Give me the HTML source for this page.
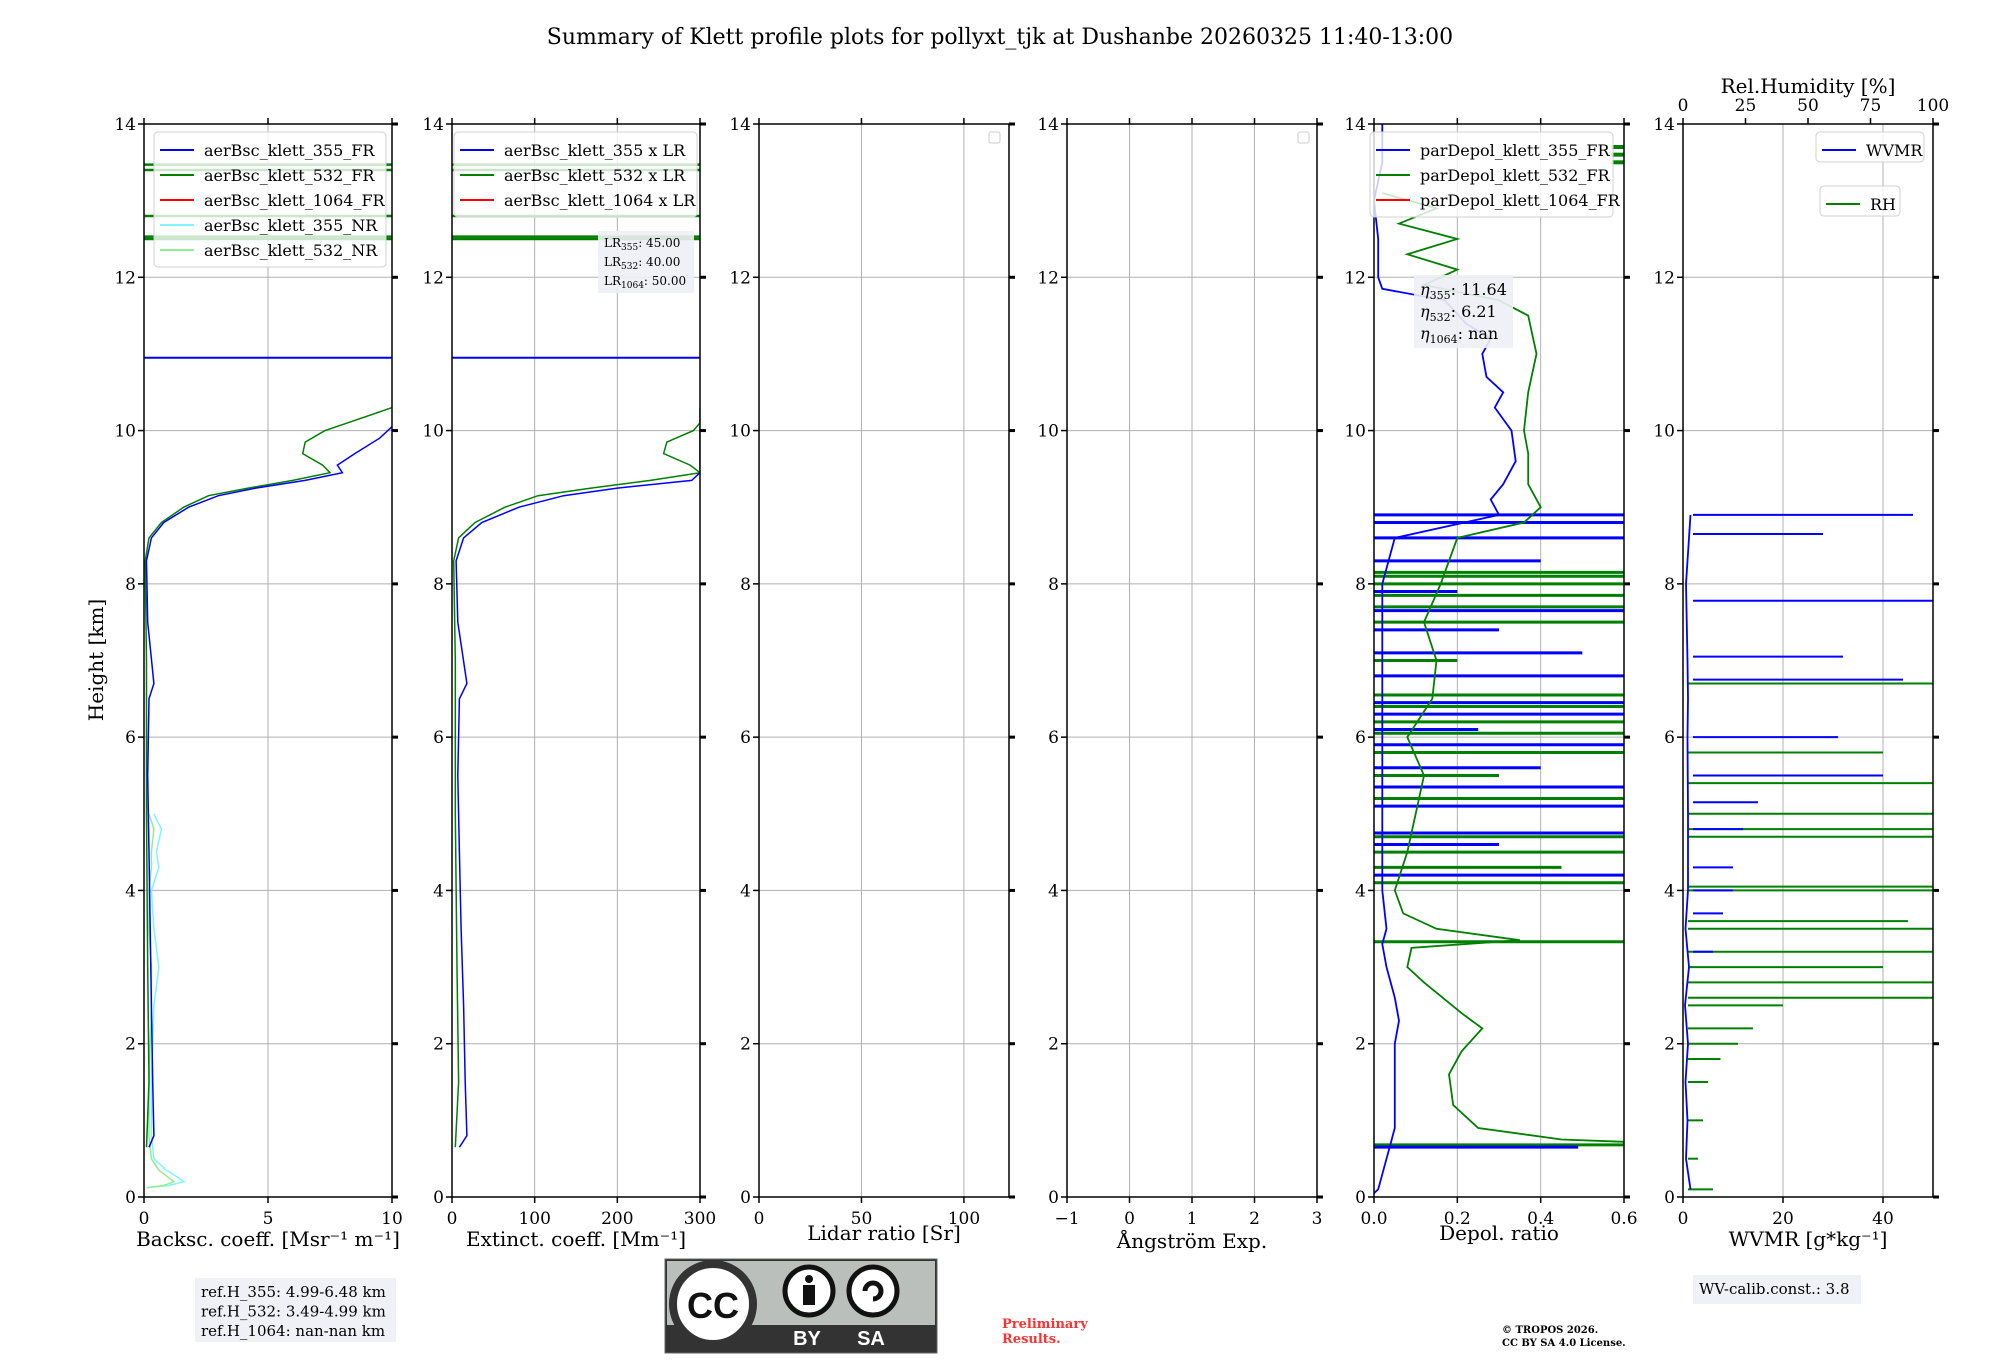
<!DOCTYPE html>
<html><head><meta charset="utf-8">
<style>
html,body{margin:0;padding:0;background:#fff;}
svg{display:block;font-family:"DejaVu Serif","Liberation Serif",serif;}
</style></head>
<body>
<svg id="chart" width="2000" height="1360" viewBox="0 0 2000 1360" xmlns="http://www.w3.org/2000/svg">
<text x="1000" y="44" font-size="22" text-anchor="middle">Summary of Klett profile plots for pollyxt_tjk at Dushanbe 20260325 11:40-13:00</text>
<g id="layer"></g>
</svg>
<script>
// ---------- data ----------
const heightTicks = [0,2,4,6,8,10,12,14];
const bscTicks = [0,5,10];
const extTicks = [0,100,200,300];
const lrTicks = [0,50,100];
const aeTicks = [-1,0,1,2,3];
const depTicks = [0.0,0.2,0.4,0.6];
const depTickLabels = ["0.0","0.2","0.4","0.6"];
const wvTicks = [0,20,40];
const rhTicks = [0,25,50,75,100];

const bscH   = [0.65,0.8,1.5,2.5,3.5,4.5,5.5,6.5,6.7,7.5,8.3,8.6,8.8,9.0,9.15,9.25,9.35,9.45,9.55,9.7,9.9,10.05];
const bsc355 = [0.2,0.4,0.35,0.3,0.25,0.2,0.15,0.2,0.4,0.15,0.1,0.3,0.8,1.8,3.0,4.5,6.5,8.0,7.8,8.5,9.5,10];
const bsc532H = [0.65,1.5,3,5,7,8.3,8.6,8.8,9.0,9.15,9.25,9.35,9.45,9.55,9.7,9.85,10.0,10.1,10.3];
const bsc532  = [0.1,0.2,0.15,0.1,0.1,0.05,0.2,0.7,1.6,2.6,4.2,6.0,7.5,7.2,6.4,6.5,7.3,8.2,10];
const nrH   = [0.12,0.15,0.2,0.25,0.35,0.5,0.8,1.5,2.5,3.0,3.5,4.0,4.3,4.5,4.8,5.0];
const nr355 = [0.1,1.0,1.6,1.4,0.9,0.4,0.3,0.3,0.4,0.6,0.4,0.3,0.6,0.5,0.7,0.4];
const nr532 = [0.1,0.8,1.2,1.0,0.6,0.3,0.2,0.2,0.3,0.3,0.2,0.2,0.3,0.3,0.4,0.2];
const ext355 = [9,18,16,14,11,9,7,9,18,7,5,14,36,81,135,200,290,300,300,300,300,300];
const ext532 = [4,8,6,4,4,2,8,28,64,104,168,240,300,288,256,260,292,300,300];
const cloudLines = [12.5,12.53,12.8,13.4,13.47];

const dep355H = [0.05,0.1,0.7,0.9,1.5,2.0,2.3,2.6,3.0,3.3,3.5,4.0,5,6,7,8,8.6,8.9,9.1,9.3,9.6,10.0,10.3,10.5,10.7,11.0,11.2,11.4,11.7,11.85,12.0,12.5,13.0,13.5,14];
const dep355  = [0.0,0.01,0.04,0.05,0.05,0.05,0.06,0.05,0.03,0.02,0.03,0.02,0.02,0.02,0.02,0.02,0.05,0.3,0.28,0.31,0.34,0.33,0.29,0.31,0.27,0.26,0.28,0.22,0.17,0.02,0.01,0.01,0.0,0.02,0.02];
const dep532H = [0.72,0.75,0.9,1.2,1.6,1.9,2.2,2.4,2.8,3.0,3.25,3.35,3.5,3.7,4.0,4.5,5.0,5.5,6.0,6.5,7.0,7.5,8.0,8.6,8.8,9.0,9.3,9.7,10.0,10.5,11.0,11.5,11.7,11.9,12.1,12.3,12.5,12.7,12.9,13.1];
const dep532  = [0.6,0.45,0.25,0.19,0.18,0.21,0.26,0.21,0.12,0.08,0.09,0.35,0.15,0.07,0.05,0.08,0.1,0.12,0.08,0.14,0.15,0.12,0.16,0.2,0.36,0.4,0.37,0.37,0.36,0.37,0.39,0.37,0.3,0.12,0.2,0.08,0.2,0.06,0.15,0.02];
const spike355H = [0.65,4.2,4.6,4.75,5.1,5.35,5.6,5.9,6.1,6.3,6.45,6.8,7.1,7.4,7.65,7.9,8.3,8.6,8.8,8.9];
const spike355V = [0.49,0.6,0.3,0.6,0.6,0.6,0.4,0.6,0.25,0.6,0.6,0.6,0.5,0.3,0.6,0.2,0.4,0.6,0.6,0.6];
const spike532H = [0.68,3.33,4.1,4.3,4.5,4.7,5.2,5.5,5.8,6.05,6.2,6.4,6.55,7.0,7.5,7.7,7.85,8.0,8.1,8.15];
const spike532V = [0.6,0.6,0.6,0.45,0.6,0.6,0.6,0.3,0.6,0.6,0.6,0.6,0.6,0.2,0.6,0.6,0.6,0.6,0.6,0.6];

const wvH = [0.1,0.5,1,1.5,2,2.5,3,3.5,4,5,6,6.5,7,8,8.9];
const wv  = [1.5,0.6,0.9,0.5,1.0,0.4,1.2,0.5,1.0,1.0,0.9,1.0,0.9,0.6,1.5];
const wvSegH = [8.9,8.65,7.78,7.05,6.75,6.0,5.5,5.15,4.8,4.3,4.0,3.7,3.2];
const wvSegV = [46,28,50,32,44,31,40,15,12,10,10,8,6];
const rhSegH = [0.1,0.5,1.0,1.5,1.8,2.0,2.2,2.5,2.6,2.8,3.0,3.2,3.5,3.6,4.0,4.05,4.7,4.8,5.0,5.4,5.8,6.7];
const rhSegV = [12,6,8,10,15,22,28,40,100,100,80,100,100,90,100,100,100,100,100,100,80,100];

// ---------- layout ----------
const NS="http://www.w3.org/2000/svg";
const layer=document.getElementById('layer');
const TOP=124, BOT=1197;
const yH = h => BOT-(h/14)*(BOT-TOP);
function el(tag,attrs,parent){const e=document.createElementNS(NS,tag);for(const k in attrs)e.setAttribute(k,attrs[k]);(parent||layer).appendChild(e);return e;}
function txt(x,y,s,size,anchor,parent,extra){const t=el('text',Object.assign({x:x,y:y,'font-size':size,'text-anchor':anchor||'middle'},extra||{}),parent);t.textContent=s;return t;}

const panels=[
 {x0:144,x1:392,min:0,max:10,ticks:bscTicks,labels:bscTicks.map(String),name:'backscatter'},
 {x0:452,x1:700,min:0,max:300,ticks:extTicks,labels:extTicks.map(String),name:'extinction'},
 {x0:759,x1:1009,min:0,max:122,ticks:lrTicks,labels:lrTicks.map(String),name:'lidar-ratio'},
 {x0:1067,x1:1317,min:-1,max:3,ticks:aeTicks,labels:aeTicks.map(v=>v<0?'\u2212'+(-v):String(v)),name:'angstrom'},
 {x0:1374,x1:1624,min:0,max:0.6,ticks:depTicks,labels:depTickLabels,name:'depol'},
 {x0:1683,x1:1933,min:0,max:50,ticks:wvTicks,labels:wvTicks.map(String),name:'wvmr'}
];
const xlabels=['Backsc. coeff. [Msr\u207B\u00B9 m\u207B\u00B9]','Extinct. coeff. [Mm\u207B\u00B9]','Lidar ratio [Sr]','\u00C5ngstr\u00F6m Exp.','Depol. ratio','WVMR [g*kg\u207B\u00B9]'];
const xlabY=[1246,1246,1240,1248,1240,1246];

panels.forEach((p,i)=>{
  const g=el('g',{});
  
  
  p.x=v=>p.x0+(v-p.min)/(p.max-p.min)*(p.x1-p.x0);
  p.g=g;
  p.ticks.forEach(v=>{const l=el('line',{x1:p.x(v),x2:p.x(v),y1:TOP,y2:BOT,stroke:'#b0b0b0','stroke-width':1},g);});
  heightTicks.forEach(h=>{const l=el('line',{x1:p.x0,x2:p.x1,y1:yH(h),y2:yH(h),stroke:'#b0b0b0','stroke-width':1},g);});
  p.clip='clip'+i;
  const cp=el('clipPath',{id:p.clip},g);el('rect',{x:p.x0,y:TOP,width:p.x1-p.x0,height:BOT-TOP},cp);
  p.data=el('g',{'clip-path':'url(#'+p.clip+')'},g);
  
  
});

function line(p,hs,vs,color,w,name){
  const d=hs.map((h,k)=>(k?'L':'M')+p.x(vs[k]).toFixed(1)+','+yH(h).toFixed(1)).join('');
  const e=el('path',{d:d,fill:'none',stroke:color,'stroke-width':w||1.5},p.data);
  
  
}
function hseg(p,h,v0,v1,color,w,name){
  const e=el('line',{x1:p.x(v0),x2:p.x(v1),y1:yH(h),y2:yH(h),stroke:color,'stroke-width':w||2},p.data);
  
  
}
const P=panels;
line(P[0],nrH,nr355,'#7ff5ff',1.5,'line-355-nr');
line(P[0],nrH,nr532,'#90ee90',1.5,'line-532-nr');
line(P[0],bsc532H,bsc532,'green',1.5,'line-532-fr');
line(P[0],bscH,bsc355,'blue',1.5,'line-355-fr');
hseg(P[0],10.95,0,10,'blue',2,'line-355-cloud');
cloudLines.forEach(h=>hseg(P[0],h,0,10,'green',2.5,'line-532-cloud'));
line(P[1],bsc532H,ext532,'green',1.5,'ext-532');
line(P[1],bscH,ext355,'blue',1.5,'ext-355');
hseg(P[1],10.95,0,300,'blue',2,'ext-355-cloud');
cloudLines.forEach(h=>hseg(P[1],h,0,300,'green',2.5,'ext-532-cloud'));
spike532H.forEach((h,k)=>hseg(P[4],h,0,spike532V[k],'green',3,'depol-532-spike'));
spike355H.forEach((h,k)=>hseg(P[4],h,0,spike355V[k],'blue',3,'depol-355-spike'));
line(P[4],dep532H,dep532,'green',1.8,'depol-532');
line(P[4],dep355H,dep355,'blue',1.8,'depol-355');
[13.5,13.6,13.7].forEach(h=>hseg(P[4],h,0.57,0.6,'green',4,'depol-532-cloud'));
const rhX=v=>P[5].x0+v/100*(P[5].x1-P[5].x0);
rhSegH.forEach((h,k)=>{const e=el('line',{x1:rhX(2),x2:rhX(rhSegV[k]),y1:yH(h),y2:yH(h),stroke:'green','stroke-width':2},P[5].data);});
wvSegH.forEach((h,k)=>hseg(P[5],h,2,wvSegV[k],'blue',2,'wvmr-segment'));
line(P[5],wvH,wv,'blue',1.8,'wvmr-line');

panels.forEach((p,i)=>{
  const g=p.g;
  const f=el('rect',{x:p.x0,y:TOP,width:p.x1-p.x0,height:BOT-TOP,fill:'none',stroke:'#000','stroke-width':1.5},g);
  
  p.ticks.forEach((v,k)=>{
    el('line',{x1:p.x(v),x2:p.x(v),y1:BOT,y2:BOT+6,stroke:'#000','stroke-width':1.5},g);
    if(i!==5) el('line',{x1:p.x(v),x2:p.x(v),y1:TOP,y2:TOP-6,stroke:'#000','stroke-width':1.5},g);
    const t=txt(p.x(v),BOT+27,p.labels[k],17,'middle',g);
    
  });
  heightTicks.forEach(h=>{
    el('line',{x1:p.x0-6,x2:p.x0,y1:yH(h),y2:yH(h),stroke:'#000','stroke-width':1.5},g);
    el('line',{x1:p.x1,x2:p.x1+6,y1:yH(h),y2:yH(h),stroke:'#000','stroke-width':3},g);
    const t=txt(p.x0-8,yH(h)+6,String(h),17,'end',g);
    
  });
  const xl=txt((p.x0+p.x1)/2,xlabY[i],xlabels[i],20,'middle',g);
  
});
rhTicks.forEach(v=>{
  el('line',{x1:rhX(v),x2:rhX(v),y1:TOP,y2:TOP-6,stroke:'#000','stroke-width':1.5});
  const t=txt(rhX(v),TOP-13,String(v),17,'middle');
  
});
const rht=txt(1808,93,'Rel.Humidity [%]',20,'middle');

const yl=txt(0,0,'Height [km]',20,'middle',null,{transform:'translate(103,660) rotate(-90)'});


function legend(x,y,w,items,name,rowH){
  const g=el('g',{});
  rowH=rowH||25;
  el('rect',{x:x,y:y,width:w,height:items.length*rowH+10,rx:4,fill:'#fff','fill-opacity':0.8,stroke:'#d0d0d0'},g);
  items.forEach((it,k)=>{
    const yy=y+18+k*rowH;
    el('line',{x1:x+6,x2:x+40,y1:yy,y2:yy,stroke:it[1],'stroke-width':2},g);
    const t=txt(x+50,yy+6,it[0],16,'start',g);
    
  });
}
legend(154,132,232,[['aerBsc_klett_355_FR','blue'],['aerBsc_klett_532_FR','green'],['aerBsc_klett_1064_FR','red'],['aerBsc_klett_355_NR','#7ff5ff'],['aerBsc_klett_532_NR','#90ee90']],'backscatter-legend');
legend(454,132,243,[['aerBsc_klett_355 x LR','blue'],['aerBsc_klett_532 x LR','green'],['aerBsc_klett_1064 x LR','red']],'extinction-legend');
legend(1370,132,243,[['parDepol_klett_355_FR','blue'],['parDepol_klett_532_FR','green'],['parDepol_klett_1064_FR','red']],'depol-legend');
legend(1816,132,108,[['WVMR','blue']],'wvmr-legend',20);
legend(1820,186,80,[['RH','green']],'rh-legend',20);
[989,1298].forEach(x=>{const r=el('rect',{x:x,y:132,width:11,height:11,rx:2,fill:'#fff',stroke:'#ccc'});});

function box(x,y,w,h,lines,size,name,lh){
  const g=el('g',{});
  el('rect',{x:x,y:y,width:w,height:h,fill:'#eef0f5','fill-opacity':0.9},g);
  lines.forEach((s,k)=>{const t=el('text',{x:x+6,y:y+size+4+k*lh,'font-size':size},g);t.innerHTML=s;});
}
box(598,231,96,62,['LR<tspan font-size="9" dy="3">355</tspan><tspan dy="-3">: 45.00</tspan>','LR<tspan font-size="9" dy="3">532</tspan><tspan dy="-3">: 40.00</tspan>','LR<tspan font-size="9" dy="3">1064</tspan><tspan dy="-3">: 50.00</tspan>'],12,'lidar-ratio-box',19);
box(1414,275,99,73,['<tspan font-style="italic">η</tspan><tspan font-size="11" dy="4">355</tspan><tspan dy="-4">: 11.64</tspan>','<tspan font-style="italic">η</tspan><tspan font-size="11" dy="4">532</tspan><tspan dy="-4">: 6.21</tspan>','<tspan font-style="italic">η</tspan><tspan font-size="11" dy="4">1064</tspan><tspan dy="-4">: nan</tspan>'],16,'eta-box',22);
box(195,1278,201,64,['ref.H_355: 4.99-6.48 km','ref.H_532: 3.49-4.99 km','ref.H_1064: nan-nan km'],15,'reference-height-box',19.5);
box(1693,1275,168,29,['WV-calib.const.: 3.8'],15,'wv-calib-box',0);

const cc=el('g',{});
el('rect',{x:665,y:1259,width:272,height:94,fill:'#333',stroke:'#666'},cc);
el('rect',{x:667,y:1261,width:268,height:64,fill:'#bbbfbb'},cc);
el('circle',{cx:713,cy:1304,r:40,fill:'#fff',stroke:'#333','stroke-width':8},cc);
txt(713,1318,'CC',36,'middle',cc,{'font-weight':'bold','font-family':'Liberation Sans, sans-serif',fill:'#111'});
el('circle',{cx:809,cy:1291,r:24,fill:'#fff',stroke:'#111','stroke-width':5},cc);
el('circle',{cx:809,cy:1279,r:4,fill:'#111'},cc);
el('rect',{x:803,y:1285,width:12,height:20,fill:'#111'},cc);
el('circle',{cx:873,cy:1291,r:24,fill:'#fff',stroke:'#111','stroke-width':5},cc);
el('path',{d:'M865,1291 a8,8 0 1 1 8,8',fill:'none',stroke:'#111','stroke-width':5},cc);
txt(807,1345,'BY',20,'middle',cc,{'font-weight':'bold','font-family':'Liberation Sans, sans-serif',fill:'#fff'});
txt(871,1345,'SA',20,'middle',cc,{'font-weight':'bold','font-family':'Liberation Sans, sans-serif',fill:'#fff'});

const pr=el('text',{x:1002,y:1328,'font-size':13,fill:'#ff3030','font-weight':'bold'});pr.innerHTML='<tspan x="1002">Preliminary</tspan><tspan x="1002" dy="15">Results.</tspan>';

const tr=el('text',{x:1502,y:1333,'font-size':10,'font-weight':'bold'});tr.innerHTML='<tspan x="1502">© TROPOS 2026.</tspan><tspan x="1502" dy="13">CC BY SA 4.0 License.</tspan>';

</script>
</body></html>
